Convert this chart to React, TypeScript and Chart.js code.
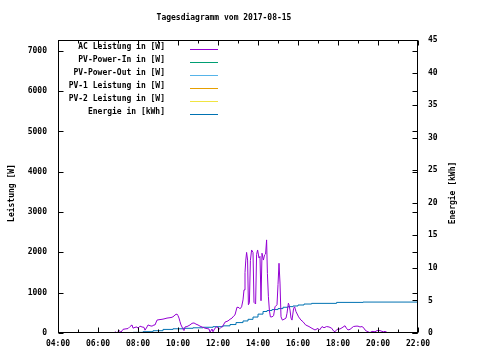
import React, { useEffect, useRef } from "react";
import { Chart, registerables } from "chart.js";

Chart.register(...registerables);

const titleText = "Tagesdiagramm vom 2017-08-15";
const leftTitle = "Leistung [W]";
const rightTitle = "Energie [kWh]";

const seriesNames = [
  "AC Leistung in [W]",
  "PV-Power-In in [W]",
  "PV-Power-Out in [W]",
  "PV-1 Leistung in [W]",
  "PV-2 Leistung in [W]",
  "Energie in [kWh]",
];
const seriesColors = ["#9400D3", "#009E73", "#56B4E9", "#E69F00", "#F0E442", "#0072B2"];

const hourTicks = [4, 6, 8, 10, 12, 14, 16, 18, 20, 22];
const powerTicks = [0, 1000, 2000, 3000, 4000, 5000, 6000, 7000];
const energyTicks = [0, 5, 10, 15, 20, 25, 30, 35, 40, 45];

const acHours = [
  6.8, 6.85, 6.95, 7.05, 7.15, 7.25, 7.35, 7.5, 7.6, 7.7, 7.75, 7.85, 7.95, 8.0, 8.1, 8.2, 8.3, 8.35, 8.45, 8.5,
  8.6, 8.7, 8.8, 8.85, 8.95, 9.05, 9.2, 9.3, 9.45, 9.6, 9.7, 9.8, 9.85, 9.95, 10.0, 10.05, 10.1, 10.15, 10.25, 10.3,
  10.35, 10.45, 10.6, 10.7, 10.8, 10.9, 11.0, 11.1, 11.2, 11.35, 11.45, 11.55, 11.6, 11.7, 11.75, 11.85, 11.95, 12.05, 12.15, 12.25,
  12.35, 12.5, 12.6, 12.7, 12.8, 12.85, 12.95, 13.05, 13.1, 13.18, 13.25, 13.3, 13.35, 13.39, 13.43, 13.48, 13.52, 13.57, 13.62, 13.68,
  13.75, 13.8, 13.88, 13.93, 13.98, 14.05, 14.1, 14.15, 14.2, 14.27, 14.33, 14.38, 14.43, 14.47, 14.52, 14.57, 14.62, 14.7, 14.78, 14.85,
  14.95, 15.0, 15.05, 15.1, 15.15, 15.22, 15.3, 15.4, 15.45, 15.52, 15.55, 15.6, 15.65, 15.7, 15.78, 15.83, 15.9, 16.03, 16.15, 16.25,
  16.38, 16.55, 16.7, 16.85, 17.0, 17.08, 17.2, 17.3, 17.43, 17.55, 17.68, 17.78, 17.85, 17.95, 18.1, 18.2, 18.35, 18.42, 18.5, 18.6,
  18.77, 18.9, 19.0, 19.1, 19.2, 19.3, 19.35, 19.45, 19.6, 19.7, 19.85, 19.95, 20.1, 20.2, 20.27, 20.35, 20.47, 20.55,
];
const acPower = [
  0, 30, 0, 60, 20, 90, 100, 110, 160, 200, 120, 140, 150, 120, 170, 150, 140, 70, 150, 200,
  180, 170, 200, 200, 320, 330, 340, 350, 370, 380, 390, 420, 450, 470, 430, 370, 280, 200, 100, 60,
  150, 160, 200, 240, 250, 220, 200, 170, 150, 120, 110, 100, 20, 100, 30, 120, 160, 90, 140, 180,
  270, 300, 340, 370, 430, 450, 640, 630, 600, 650, 820, 1070, 1500, 1810, 2000, 1810, 700, 750, 1800, 2060,
  2000, 760, 720, 1950, 2060, 1860, 1900, 800, 1980, 1810, 1940, 1960, 2310, 1480, 900, 560, 400, 400, 430, 650,
  700, 1200, 1730, 1240, 400, 320, 340, 370, 490, 740, 700, 570, 370, 320, 610, 650, 530, 400, 320, 280,
  200, 160, 115, 75, 115, 75, 160, 130, 160, 150, 120, 50, 30, 90, 100, 130, 180, 120, 75, 90,
  160, 170, 170, 150, 160, 120, 75, 40, 10, 40, 30, 60, 60, 40, 30, 40, 10, 0,
];

const energyHours = [
  7.75, 8.25, 8.75, 9.25, 9.75, 10.25, 10.75, 11.25, 11.75, 12.25, 12.6, 12.9, 13.25, 13.5, 13.75, 14.0, 14.25, 14.45, 14.7, 15.0,
  15.25, 15.5, 15.75, 16.0, 16.3, 16.68, 17.93, 19.25, 22.0,
];
const energyKWh = [
  0, 0.1, 0.2, 0.35, 0.55, 0.65, 0.72, 0.8, 0.88, 0.97, 1.1, 1.3, 1.6, 1.85, 2.1, 2.45, 2.9, 3.3, 3.45, 3.6,
  3.75, 3.95, 4.05, 4.15, 4.3, 4.45, 4.55, 4.7, 4.75,
];

const FONT = "'DejaVu Sans Mono', monospace";
const fontSpec = { family: FONT, size: 8, weight: "bold" as const };

function pts(xs: number[], ys: number[]) {
  return xs.map((x, i) => ({ x, y: ys[i] }));
}

const decorPlugin = {
  id: "gnuplotDecor",
  afterDraw(chart: any) {
    const ctx = chart.ctx as CanvasRenderingContext2D;
    const a = chart.chartArea;
    const xs = chart.scales.x;
    const ys = chart.scales.y;
    const y2 = chart.scales.y2;
    ctx.save();
    ctx.strokeStyle = "#000";
    ctx.lineWidth = 1;
    const L = Math.round(a.left) + 0.5;
    const R = Math.round(a.right) - 0.5;
    const T = Math.round(a.top) + 0.5;
    const B = Math.round(a.bottom) - 0.5;
    ctx.strokeRect(L, T, R - L, B - T);
    ctx.beginPath();
    for (let h = 4; h <= 22; h++) {
      const len = h % 2 === 0 ? 5 : 3;
      const px = Math.round(xs.getPixelForValue(h)) + 0.5;
      ctx.moveTo(px, B);
      ctx.lineTo(px, B - len);
      ctx.moveTo(px, T);
      ctx.lineTo(px, T + len);
    }
    powerTicks.forEach((v) => {
      const py = Math.round(ys.getPixelForValue(v)) + 0.5;
      ctx.moveTo(L, py);
      ctx.lineTo(L + 5, py);
      ctx.moveTo(R, py);
      ctx.lineTo(R - 5, py);
    });
    energyTicks.forEach((v) => {
      const py = Math.round(y2.getPixelForValue(v)) + 0.5;
      ctx.moveTo(R, py);
      ctx.lineTo(R - 5, py);
    });
    ctx.stroke();

    ctx.fillStyle = "#000";
    ctx.font = `bold 8px ${FONT}`;
    ctx.textBaseline = "middle";
    ctx.textAlign = "center";
    ctx.fillText(titleText, 224, 18);

    ctx.save();
    ctx.translate(12, 193);
    ctx.rotate(-Math.PI / 2);
    ctx.fillText(leftTitle, 0, 0);
    ctx.restore();
    ctx.save();
    ctx.translate(453, 193);
    ctx.rotate(-Math.PI / 2);
    ctx.fillText(rightTitle, 0, 0);
    ctx.restore();

    seriesNames.forEach((name, i) => {
      const ty = 47 + i * 12.9;
      ctx.textAlign = "right";
      ctx.fillStyle = "#000";
      ctx.fillText(name, 165, ty);
      ctx.strokeStyle = seriesColors[i];
      ctx.beginPath();
      const ly = Math.round(ty + 2) + 0.5;
      ctx.moveTo(190, ly);
      ctx.lineTo(218, ly);
      ctx.stroke();
    });
    ctx.restore();
  },
};

export default function App() {
  const ref = useRef<HTMLCanvasElement>(null);
  useEffect(() => {
    document.body.style.margin = "0";
    const canvas = ref.current;
    if (!canvas) return;
    const chart = new Chart(canvas, {
      type: "line",
      data: {
        datasets: [
          { label: seriesNames[0], data: pts(acHours, acPower), borderColor: seriesColors[0], yAxisID: "y" },
          { label: seriesNames[1], data: [], borderColor: seriesColors[1], yAxisID: "y" },
          { label: seriesNames[2], data: [], borderColor: seriesColors[2], yAxisID: "y" },
          { label: seriesNames[3], data: [], borderColor: seriesColors[3], yAxisID: "y" },
          { label: seriesNames[4], data: [], borderColor: seriesColors[4], yAxisID: "y" },
          { label: seriesNames[5], data: pts(energyHours, energyKWh), borderColor: seriesColors[5], yAxisID: "y2", stepped: "after" },
        ].map((d: any) => ({ ...d, borderWidth: 1, pointRadius: 0, fill: false, tension: 0 })),
      },
      options: {
        animation: false,
        responsive: false,
        maintainAspectRatio: false,
        layout: { padding: { top: 40, left: 0, right: 0, bottom: 0 } },
        plugins: { legend: { display: false }, title: { display: false }, tooltip: { enabled: false } },
        scales: {
          x: {
            type: "linear",
            min: 4,
            max: 22,
            afterBuildTicks: (s: any) => {
              s.ticks = hourTicks.map((v) => ({ value: v }));
            },
            ticks: {
              font: fontSpec,
              color: "#000",
              padding: 6,
              maxRotation: 0,
              autoSkip: false,
              callback: (v: any) => `${String(v).padStart(2, "0")}:00`,
            },
            grid: { display: false, drawTicks: false },
            border: { display: false },
            afterFit: (s: any) => {
              s.height = 27;
            },
          },
          y: {
            type: "linear",
            position: "left",
            min: 0,
            max: 7270,
            afterBuildTicks: (s: any) => {
              s.ticks = powerTicks.map((v) => ({ value: v }));
            },
            ticks: { font: fontSpec, color: "#000", padding: 11, callback: (v: any) => String(v) },
            grid: { display: false, drawTicks: false },
            border: { display: false },
            afterFit: (s: any) => {
              s.width = 58;
            },
          },
          y2: {
            type: "linear",
            position: "right",
            min: 0,
            max: 45,
            afterBuildTicks: (s: any) => {
              s.ticks = energyTicks.map((v) => ({ value: v }));
            },
            ticks: { font: fontSpec, color: "#000", padding: 10, callback: (v: any) => String(v) },
            grid: { display: false, drawTicks: false },
            border: { display: false },
            afterFit: (s: any) => {
              s.width = 62;
            },
          },
        },
      },
      plugins: [decorPlugin],
    } as any);
    return () => chart.destroy();
  }, []);
  return (
    <div style={{ width: 480, height: 360, background: "#fff" }}>
      <canvas ref={ref} width={480} height={360} style={{ display: "block" }} />
    </div>
  );
}
